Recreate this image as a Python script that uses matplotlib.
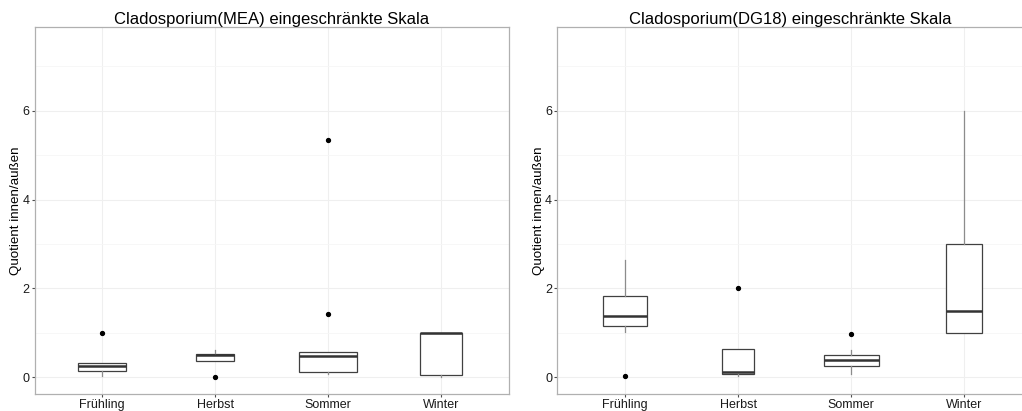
import matplotlib
matplotlib.use("Agg")
import matplotlib.pyplot as plt
from matplotlib.ticker import MultipleLocator

plt.rcParams['font.family'] = ['Liberation Sans', 'DejaVu Sans']

seasons = ["Frühling", "Herbst", "Sommer", "Winter"]

# Kennwerte je Jahreszeit: unteres Quartil, Median, oberes Quartil, Whisker, Ausreißer
mea_q1 = [0.135, 0.37, 0.12, 0.045]
mea_med = [0.26, 0.50, 0.49, 1.0]
mea_q3 = [0.33, 0.53, 0.58, 1.0]
mea_lo = [0.03, 0.37, 0.07, 0.01]
mea_hi = [0.33, 0.61, 0.58, 1.0]
mea_out = [[1.0], [0.0], [1.42, 5.33], []]
mea_width = [0.425, 0.336, 0.513, 0.372]

dg_q1 = [1.16, 0.07, 0.25, 1.0]
dg_med = [1.39, 0.13, 0.38, 1.5]
dg_q3 = [1.82, 0.63, 0.51, 3.0]
dg_lo = [1.01, 0.02, 0.07, 1.0]
dg_hi = [2.65, 0.63, 0.61, 6.0]
dg_out = [[0.04], [2.0], [0.97], []]
dg_width = [0.39, 0.29, 0.487, 0.327]

titles = ["Cladosporium(MEA) eingeschränkte Skala", "Cladosporium(DG18) eingeschränkte Skala"]
ylabel = "Quotient innen/außen"


def box_stats(q1, med, q3, lo, hi, out):
    return [dict(q1=a, med=m, q3=b, whislo=l, whishi=h, fliers=f)
            for a, m, b, l, h, f in zip(q1, med, q3, lo, hi, out)]


def draw_panel(ax, stats, widths, title, title_x=0.5):
    pos = list(range(1, len(seasons) + 1))
    ax.bxp(stats, positions=pos, widths=widths, showcaps=False, patch_artist=True,
           boxprops=dict(facecolor="white", edgecolor="#404040", linewidth=0.9),
           medianprops=dict(color="#333333", linewidth=1.8),
           whiskerprops=dict(color="#8c8c8c", linewidth=0.9),
           flierprops=dict(marker="o", markersize=2.8, markerfacecolor="black",
                           markeredgecolor="black"),
           zorder=3)
    ax.set_xlim(0.4, 4.6)
    ax.set_ylim(-0.375, 7.875)
    ax.set_xticks(pos)
    ax.set_xticklabels(seasons)
    ax.yaxis.set_major_locator(MultipleLocator(2))
    ax.yaxis.set_minor_locator(MultipleLocator(1))
    ax.grid(True, which="major", color="#efefef", linewidth=0.8, zorder=0)
    ax.grid(True, which="minor", axis="y", color="#f6f6f6", linewidth=0.6, zorder=0)
    ax.set_axisbelow(True)
    ax.tick_params(axis="both", which="major", labelsize=9, colors="#4d4d4d",
                   labelcolor="#1a1a1a", length=2.2, width=0.8, pad=1.5)
    ax.tick_params(axis="y", which="minor", length=0)
    for s in ax.spines.values():
        s.set_color("#b0b0b0")
        s.set_linewidth(0.9)
    ax.set_ylabel(ylabel, fontsize=9.6, labelpad=0)
    ax.set_title(title, fontsize=12, pad=1, x=title_x)


fig = plt.figure(figsize=(10.22, 4.11), dpi=100)
ax1 = fig.add_axes([0.0338, 0.0414, 0.464, 0.892])
ax2 = fig.add_axes([0.5453, 0.0414, 0.4643, 0.892])

draw_panel(ax1, box_stats(mea_q1, mea_med, mea_q3, mea_lo, mea_hi, mea_out), mea_width, titles[0])
draw_panel(ax2, box_stats(dg_q1, dg_med, dg_q3, dg_lo, dg_hi, dg_out), dg_width, titles[1],
           title_x=0.49)

fig.savefig("out.png", dpi=100)
